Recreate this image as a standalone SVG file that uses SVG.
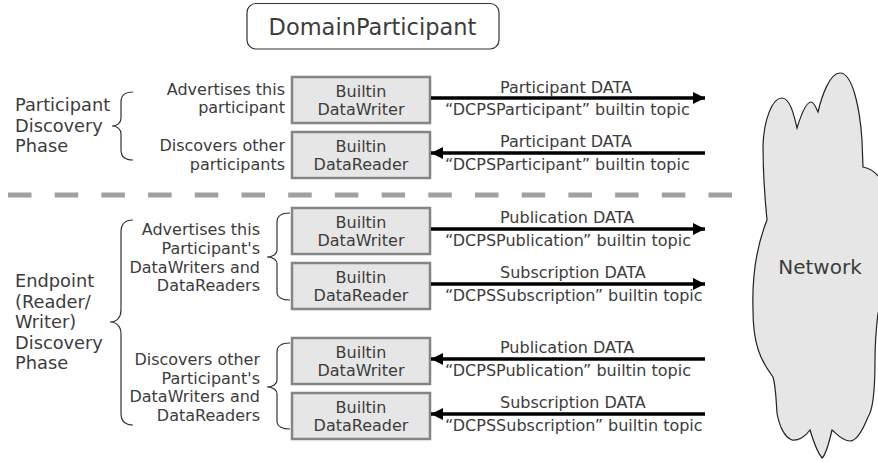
<svg xmlns="http://www.w3.org/2000/svg" width="878" height="462" viewBox="0 0 878 462">
<defs>
<style>
text{font-family:"DejaVu Sans","Liberation Sans",sans-serif;fill:#3c3c3c}
.box{fill:#e6e6e6;stroke:#858585;stroke-width:2.5}
.bt{font-size:16px;text-anchor:middle}
.lbl{font-size:16px}
.side{font-size:16px;text-anchor:end}
.phase{font-size:17.8px}
.brace{fill:none;stroke:#333;stroke-width:1.2}
.arr{stroke:#000;stroke-width:3.5;fill:none}
</style>
<marker id="ah" viewBox="0 0 12 12" refX="12" refY="6" markerWidth="12" markerHeight="12" markerUnits="userSpaceOnUse" orient="auto">
<path d="M0,0 L12,6 L0,12 Z" fill="#000"/>
</marker>
</defs>
<rect width="878" height="462" fill="#fff"/>

<g id="network">
<path d="M763,145 C764,120 772,98 782,98 C790,98 794,115 797,128 C801,115 806,102 811,102 C814,102 816,108 818,112 C822,95 830,73 840,73 C853,73 860,110 862,140 L863,167 C868,168 874,171 878,176 L890,176 L890,313 L878,313 C876,330 875,345 875,360 C875,390 873,410 868,417 C862,432 856,441 850,441 C842,441 836,433 832,430 C829,443 826,455 822,458 C817,452 813,440 810,430 C805,437 798,441 792,440 C784,437 779,425 777,413 C776,400 776,388 773,377 C760,360 753,343 753,310 C752,280 755,250 767,220 C765,200 763,170 763,145 Z" fill="#e6e6e6" stroke="#222" stroke-width="1.2"/>
<text x="820" y="274" font-size="20" text-anchor="middle">Network</text>
</g>

<g id="domainparticipant">
<rect x="247" y="3.5" width="252" height="45.5" rx="9" fill="#fff" stroke="#333" stroke-width="1.2"/>
<text x="372.5" y="35" font-size="22.5" text-anchor="middle">DomainParticipant</text>
</g>

<line x1="8" y1="195" x2="732" y2="195" stroke="#a0a0a0" stroke-width="5" stroke-dasharray="23.5 23.2"/>

<g id="participant-phase">
<text class="phase" x="15" y="111">Participant</text>
<text class="phase" x="15" y="131.5">Discovery</text>
<text class="phase" x="15" y="152">Phase</text>
<path class="brace" d="M133,92 C125,92 121,96 121,102 L121,118 C121,123 117,126 112,126 C117,126 121,129 121,134 L121,150 C121,156 125,160 133,160"/>
</g>

<g id="endpoint-phase">
<text class="phase" x="15" y="287">Endpoint</text>
<text class="phase" x="15" y="307.5">(Reader/</text>
<text class="phase" x="15" y="328">Writer)</text>
<text class="phase" x="15" y="348.5">Discovery</text>
<text class="phase" x="15" y="369">Phase</text>
<path class="brace" d="M133,220 C125,220 121,224 121,232 L121,310 C121,317 117,322 110,322 C117,322 121,327 121,334 L121,413 C121,421 125,425 133,425"/>
</g>

<g id="desc-advertise-participant">
<text class="side" x="285" y="95">Advertises this</text>
<text class="side" x="285" y="113">participant</text>
</g>
<g id="desc-discover-participants">
<text class="side" x="285" y="151">Discovers other</text>
<text class="side" x="285" y="170">participants</text>
</g>
<g id="desc-advertise-endpoints">
<text class="side" x="260" y="235">Advertises this</text>
<text class="side" x="260" y="254">Participant's</text>
<text class="side" x="260" y="272.5">DataWriters and</text>
<text class="side" x="260" y="291">DataReaders</text>
<path class="brace" d="M290,213 C282,213 277,216 277,222 L277,250 C277,254 273,257 267,257 C273,257 277,260 277,264 L277,292 C277,297 282,300 290,300"/>
</g>
<g id="desc-discover-endpoints">
<text class="side" x="260" y="365">Discovers other</text>
<text class="side" x="260" y="383.5">Participant's</text>
<text class="side" x="260" y="402">DataWriters and</text>
<text class="side" x="260" y="420.5">DataReaders</text>
<path class="brace" d="M290,343 C282,343 277,346 277,352 L277,380 C277,384 273,387 267,387 C273,387 277,390 277,394 L277,421 C277,426 282,429 290,429"/>
</g>

<g id="pw1">
<rect class="box" x="292" y="77" width="138" height="46"/>
<text class="bt" x="361" y="97">Builtin</text>
<text class="bt" x="361" y="115">DataWriter</text>
</g>
<g id="pr1">
<rect class="box" x="292" y="132" width="138" height="46"/>
<text class="bt" x="361" y="152">Builtin</text>
<text class="bt" x="361" y="170">DataReader</text>
</g>
<g id="ew1">
<rect class="box" x="292" y="208" width="138" height="46"/>
<text class="bt" x="361" y="228">Builtin</text>
<text class="bt" x="361" y="246">DataWriter</text>
</g>
<g id="er1">
<rect class="box" x="292" y="263" width="138" height="46"/>
<text class="bt" x="361" y="283">Builtin</text>
<text class="bt" x="361" y="301">DataReader</text>
</g>
<g id="ew2">
<rect class="box" x="292" y="338" width="138" height="46"/>
<text class="bt" x="361" y="358">Builtin</text>
<text class="bt" x="361" y="376">DataWriter</text>
</g>
<g id="er2">
<rect class="box" x="292" y="393" width="138" height="46"/>
<text class="bt" x="361" y="413">Builtin</text>
<text class="bt" x="361" y="431">DataReader</text>
</g>

<g id="connectors">
<line class="arr" x1="431" y1="98" x2="705" y2="98" marker-end="url(#ah)"/>
<text class="lbl" x="500" y="92.5">Participant DATA</text>
<text class="lbl" x="445" y="115">“DCPSParticipant” builtin topic</text>

<line class="arr" x1="705" y1="153" x2="431" y2="153" marker-end="url(#ah)"/>
<text class="lbl" x="500" y="147">Participant DATA</text>
<text class="lbl" x="445" y="169.5">“DCPSParticipant” builtin topic</text>

<line class="arr" x1="431" y1="229" x2="705" y2="229" marker-end="url(#ah)"/>
<text class="lbl" x="500" y="223">Publication DATA</text>
<text class="lbl" x="445" y="245.5">“DCPSPublication” builtin topic</text>

<line class="arr" x1="431" y1="284" x2="705" y2="284" marker-end="url(#ah)"/>
<text class="lbl" x="500" y="278">Subscription DATA</text>
<text class="lbl" x="445" y="300.5">“DCPSSubscription” builtin topic</text>

<line class="arr" x1="705" y1="359" x2="431" y2="359" marker-end="url(#ah)"/>
<text class="lbl" x="500" y="353">Publication DATA</text>
<text class="lbl" x="445" y="375.5">“DCPSPublication” builtin topic</text>

<line class="arr" x1="705" y1="414" x2="431" y2="414" marker-end="url(#ah)"/>
<text class="lbl" x="500" y="408">Subscription DATA</text>
<text class="lbl" x="445" y="430.5">“DCPSSubscription” builtin topic</text>
</g>
</svg>
